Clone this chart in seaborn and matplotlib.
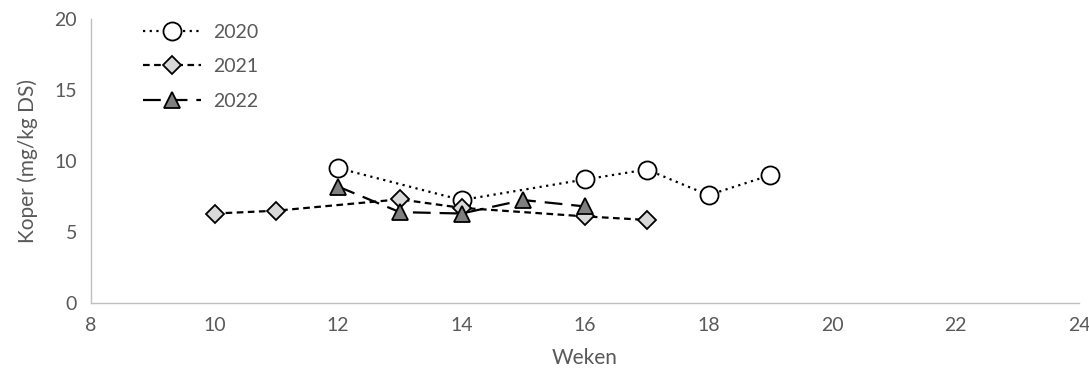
import matplotlib
matplotlib.use("Agg")
import matplotlib.pyplot as plt
import seaborn as sns
import pandas as pd

weeks_2020 = [12, 14, 16, 17, 18, 19]
vals_2020 = [9.5, 7.25, 8.7, 9.4, 7.6, 9.0]
weeks_2021 = [10, 11, 13, 14, 16, 17]
vals_2021 = [6.3, 6.5, 7.3, 6.7, 6.1, 5.85]
weeks_2022 = [12, 13, 14, 15, 16]
vals_2022 = [8.2, 6.4, 6.3, 7.25, 6.8]

sns.set_theme(style="white")
plt.rcParams['font.family'] = ['Lato', 'DejaVu Sans']

fig = plt.figure(figsize=(10.89, 3.9), dpi=100)
ax = fig.add_axes([91/1089, 1-303/390, (1079-91)/1089, (303-19)/390])

styles = [
    ("2020", weeks_2020, vals_2020, dict(linestyle=(0, (1, 2)), marker="o", markersize=13, markerfacecolor="white")),
    ("2021", weeks_2021, vals_2021, dict(linestyle=(0, (3, 2)), marker="D", markersize=9.5, markerfacecolor="#d9d9d9")),
    ("2022", weeks_2022, vals_2022, dict(linestyle=(0, (8, 4)), marker="^", markersize=12, markerfacecolor="#7f7f7f")),
]
for label, x, y, st in styles:
    df = pd.DataFrame({"x": x, "y": y})
    sns.lineplot(data=df, x="x", y="y", ax=ax, color="black", linewidth=1.6,
                 markeredgecolor="black", markeredgewidth=1.3, label=label, **st)

ax.set_xlim(8, 24)
ax.set_ylim(0, 20)
ax.set_xticks(range(8, 25, 2))
ax.set_yticks(range(0, 21, 5))
for s in ["top", "right"]:
    ax.spines[s].set_visible(False)
for s in ["left", "bottom"]:
    ax.spines[s].set_color("#bfbfbf")
    ax.spines[s].set_linewidth(1)
ax.tick_params(axis="both", colors="#595959", labelsize=14, length=0, pad=10)
ax.set_xlabel("Weken", fontsize=15, color="#595959", labelpad=10)
ax.set_ylabel("Koper (mg/kg DS)", fontsize=15, color="#595959", labelpad=12)
leg = ax.legend(loc="upper left", frameon=False, fontsize=14, handlelength=3.0,
                bbox_to_anchor=(0.035, 1.045), labelspacing=0.9, handletextpad=0.6)
for t in leg.get_texts():
    t.set_color("#595959")

fig.savefig("out.png", dpi=100)
